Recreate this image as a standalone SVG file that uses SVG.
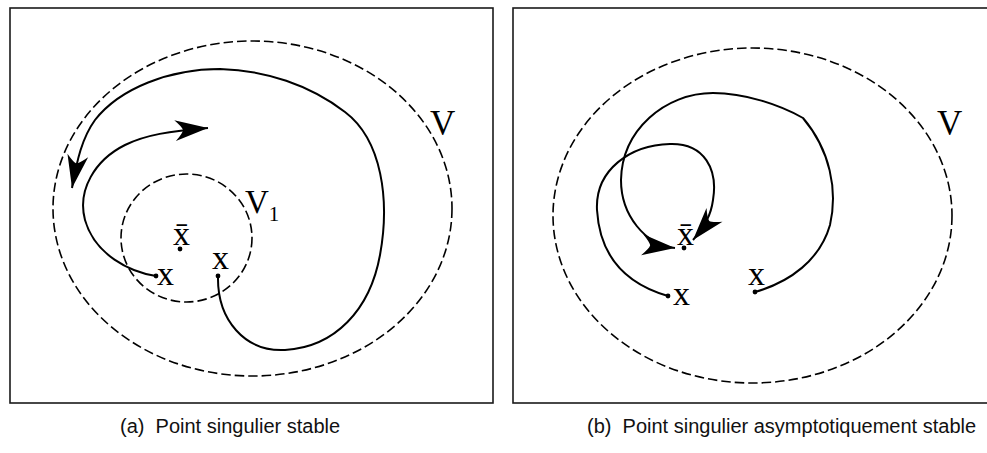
<svg xmlns="http://www.w3.org/2000/svg" width="987" height="453" viewBox="0 0 987 453">
<style>
.frame{fill:none;stroke:#1a1a1a;stroke-width:1.6}
.region{fill:none;stroke:#000;stroke-width:1.6;stroke-dasharray:9.5 4}
.traj{fill:none;stroke:#000;stroke-width:2}
.pt{fill:#000}
.lbl{font-family:"Liberation Serif","Times New Roman",serif;fill:#000}
.cap{font-family:"Liberation Sans",Arial,sans-serif;font-size:20px;fill:#111;white-space:pre}
</style>
<defs>
<marker id="arr" markerUnits="userSpaceOnUse" viewBox="-36 -12 38 24" refX="0" refY="0" markerWidth="38" markerHeight="24" orient="auto">
<path d="M0,0 L-33,-10.5 Q-25.5,-3 -25,0 Q-25.5,3 -33,10.5 Z" fill="#000"/>
</marker>
</defs>
<g id="panel-a">
<rect class="frame" x="10" y="8" width="483" height="395"/>
<g id="region-V-a"><ellipse class="region" cx="252.5" cy="208.5" rx="199.5" ry="167.5"/><text class="lbl" x="430" y="135" font-size="35">V</text></g>
<g id="region-V1"><ellipse class="region" cx="186.5" cy="238" rx="65.5" ry="64"/><text class="lbl" x="245" y="213" font-size="33">V<tspan font-size="21" dy="8">1</tspan></text></g>
<g id="xbar-a"><circle class="pt" cx="180" cy="249" r="2.4"/><text class="lbl" x="173" y="245" font-size="34">x̄</text></g>
<g id="x1-a"><circle class="pt" cx="156" cy="276" r="2.4"/><text class="lbl" x="157" y="285" font-size="34">x</text></g>
<g id="x2-a"><circle class="pt" cx="218" cy="276" r="2.4"/><text class="lbl" x="212" y="269" font-size="34">x</text></g>
</g>
<g id="panel-b">
<rect class="frame" x="513" y="8" width="490" height="395"/>
<g id="region-V-b"><ellipse class="region" cx="752.5" cy="215.5" rx="199.5" ry="167.5"/><text class="lbl" x="937" y="135" font-size="35">V</text></g>
<g id="xbar-b"><circle class="pt" cx="684" cy="248" r="2.4"/><text class="lbl" x="677" y="245" font-size="34">x̄</text></g>
<g id="x1-b"><circle class="pt" cx="668" cy="296" r="2.4"/><text class="lbl" x="673" y="305" font-size="34">x</text></g>
<g id="x2-b"><circle class="pt" cx="755" cy="292" r="2.4"/><text class="lbl" x="748" y="285" font-size="34">x</text></g>
</g>
<g id="connectors">
<path class="traj" marker-end="url(#arr)" d="M156,276 C130,272 95,255 85,220 C77,190 95,160 125,145 C145,135 170,131 208,128"/>
<path class="traj" marker-end="url(#arr)" d="M218,276 C217,320 245,352 285,350 C335,347 370,310 380,255 C390,200 382,140 345,112 C310,85 265,70 220,69 C170,69 120,88 95,120 C82,138 77,160 72,188"/>
<path class="traj" marker-end="url(#arr)" d="M668,296 C630,285 600,260 597,210 C595,170 630,145 670,144 C705,143 718,170 713,200 C711,215 705,226 693,240"/>
<path class="traj" marker-end="url(#arr)" d="M755,292 C790,282 820,260 830,225 C838,190 830,150 803,118 C780,105 745,93 713,93 C665,93 622,130 621,180 C621,215 645,245 675,248"/>
</g>
<text class="cap" x="120" y="433">(a)  Point singulier stable</text>
<text class="cap" x="587" y="433">(b)  Point singulier asymptotiquement stable</text>
</svg>
